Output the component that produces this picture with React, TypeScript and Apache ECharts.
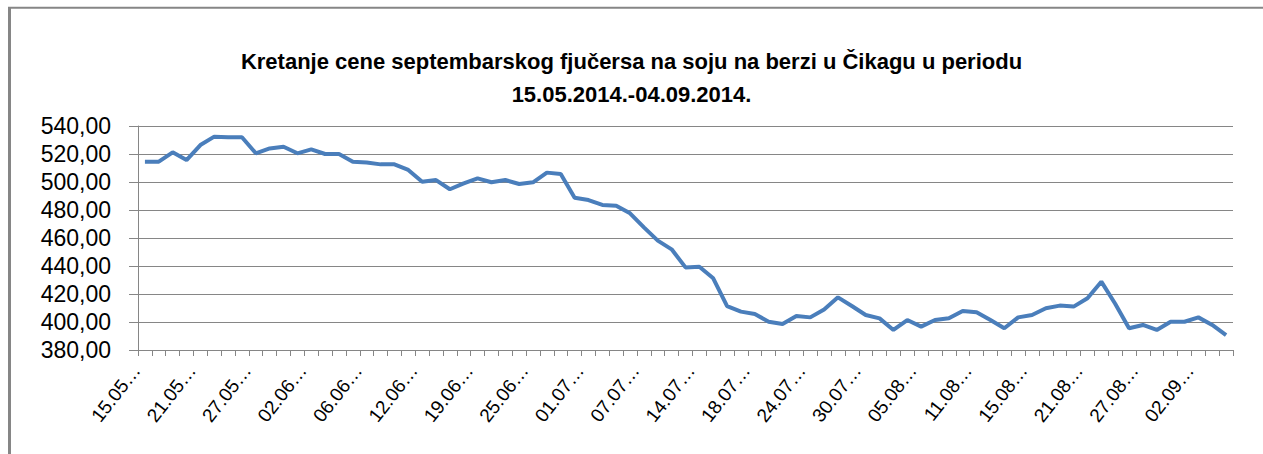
import React, { useEffect, useRef } from "react";
import * as echarts from "echarts";

const titleLine1 = "Kretanje cene septembarskog fjučersa na soju na berzi u Čikagu u periodu";
const titleLine2 = "15.05.2014.-04.09.2014.";

const dates = [
  "15.05.2014", "16.05.2014", "19.05.2014", "20.05.2014", "21.05.2014", "22.05.2014", "23.05.2014", "26.05.2014",
  "27.05.2014", "28.05.2014", "29.05.2014", "30.05.2014", "02.06.2014", "03.06.2014", "04.06.2014", "05.06.2014",
  "06.06.2014", "09.06.2014", "10.06.2014", "11.06.2014", "12.06.2014", "13.06.2014", "16.06.2014", "17.06.2014",
  "19.06.2014", "20.06.2014", "23.06.2014", "24.06.2014", "25.06.2014", "26.06.2014", "27.06.2014", "30.06.2014",
  "01.07.2014", "02.07.2014", "03.07.2014", "04.07.2014", "07.07.2014", "08.07.2014", "09.07.2014", "10.07.2014",
  "14.07.2014", "15.07.2014", "16.07.2014", "17.07.2014", "18.07.2014", "21.07.2014", "22.07.2014", "23.07.2014",
  "24.07.2014", "25.07.2014", "28.07.2014", "29.07.2014", "30.07.2014", "31.07.2014", "01.08.2014", "04.08.2014",
  "05.08.2014", "06.08.2014", "07.08.2014", "08.08.2014", "11.08.2014", "12.08.2014", "13.08.2014", "14.08.2014",
  "15.08.2014", "18.08.2014", "19.08.2014", "20.08.2014", "21.08.2014", "22.08.2014", "25.08.2014", "26.08.2014",
  "27.08.2014", "28.08.2014", "29.08.2014", "01.09.2014", "02.09.2014", "03.09.2014", "04.09.2014",
];

const prices = [
  514.5, 514.5, 521.2, 515.7, 526.4, 532.4, 532.0, 532.0,
  520.5, 524.0, 525.2, 520.5, 523.3, 520.0, 520.0, 514.5,
  514.0, 512.6, 512.6, 508.6, 500.2, 501.4, 494.8, 499.0,
  502.6, 499.8, 501.4, 498.6, 499.8, 506.7, 505.7, 488.8,
  487.1, 483.6, 483.1, 477.6, 467.6, 458.1, 451.9, 439.0,
  439.5, 431.2, 411.4, 407.4, 405.7, 400.2, 398.6, 404.3,
  403.3, 409.0, 417.6, 411.4, 405.0, 402.6, 394.3, 401.4,
  396.7, 401.4, 402.6, 407.9, 407.0, 401.4, 395.5, 403.3,
  405.0, 409.8, 411.7, 411.0, 417.0, 428.8, 413.0, 395.5,
  397.9, 394.3, 400.2, 400.2, 403.3, 397.9, 390.7,
];

const yMin = 380;
const yMax = 540;
const yStep = 20;

export default function App() {
  const ref = useRef<HTMLDivElement>(null);
  useEffect(() => {
    if (!ref.current) return;
    const chart = echarts.init(ref.current, null, { renderer: "svg" });
    const gray = "#868686";
    chart.setOption({
      animation: false,
      backgroundColor: "#ffffff",
      title: {
        text: titleLine1 + "\n" + titleLine2,
        left: "center",
        top: 40,
        textStyle: {
          fontFamily: "Liberation Sans, Arial, sans-serif",
          fontWeight: "bold",
          fontSize: 22,
          lineHeight: 33,
          color: "#000000",
        },
      },
      graphic: [
        { type: "line", shape: { x1: 9.5, y1: 7.5, x2: 9.5, y2: 454 }, style: { stroke: gray, lineWidth: 3 } },
        { type: "line", shape: { x1: 8, y1: 7.7, x2: 1263, y2: 7.7 }, style: { stroke: gray, lineWidth: 2 } },
      ],
      grid: { left: 138, right: 30, top: 126, bottom: 104, containLabel: false },
      xAxis: {
        type: "category",
        data: dates,
        boundaryGap: true,
        axisLine: { show: true, lineStyle: { color: gray, width: 1 } },
        axisTick: { show: true, interval: 0, length: 6, lineStyle: { color: gray } },
        axisLabel: {
          interval: 3,
          rotate: 52,
          margin: 6,
          padding: [0, 14, 0, 0],
          fontSize: 19,
          color: "#000000",
          fontFamily: "Liberation Sans, Arial, sans-serif",
          formatter: (v: string) => v.slice(0, 5) + "…",
        },
        splitLine: { show: false },
      },
      yAxis: {
        type: "value",
        min: yMin,
        max: yMax,
        interval: yStep,
        axisLine: { show: true, lineStyle: { color: gray, width: 1 } },
        axisTick: { show: true, length: 9, lineStyle: { color: gray } },
        axisLabel: {
          margin: 27,
          fontSize: 23,
          color: "#000000",
          fontFamily: "Liberation Sans, Arial, sans-serif",
          formatter: (v: number) => v.toFixed(2).replace(".", ","),
        },
        splitLine: { show: true, lineStyle: { color: gray, width: 1 } },
      },
      series: [
        {
          type: "line",
          data: prices,
          symbol: "none",
          lineStyle: { color: "#4a7ebb", width: 4 },
          itemStyle: { color: "#4a7ebb" },
        },
      ],
    });
    return () => chart.dispose();
  }, []);
  return (
    <div
      ref={ref}
      style={{ position: "fixed", left: 0, top: 0, width: 1263, height: 454 }}
    />
  );
}
